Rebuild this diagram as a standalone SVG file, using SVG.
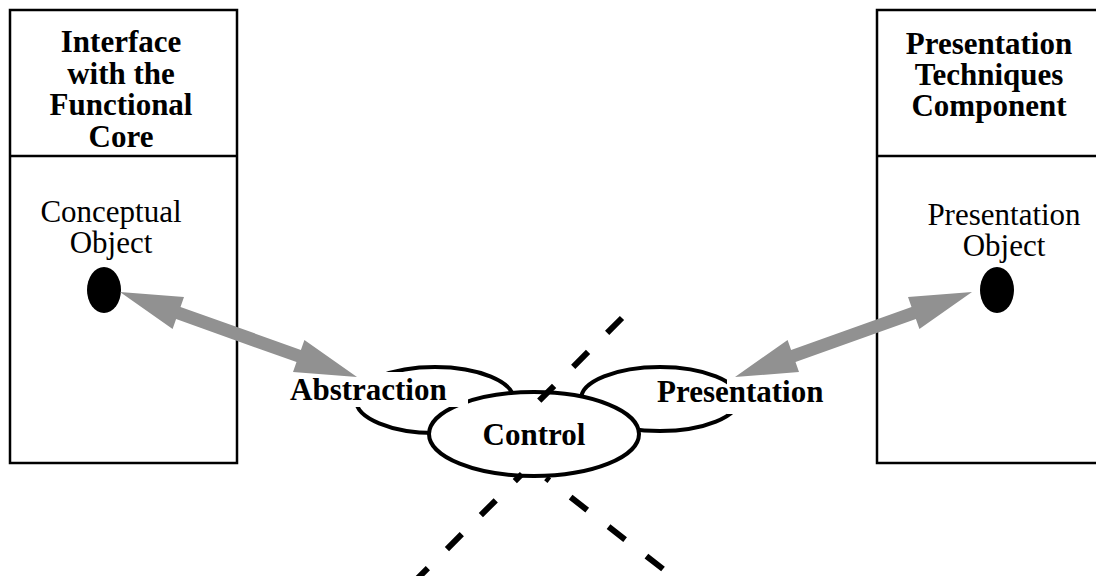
<svg xmlns="http://www.w3.org/2000/svg" width="1096" height="576" viewBox="0 0 1096 576">
<style>
.box{fill:#fff;stroke:#000;stroke-width:2.5}
.div{stroke:#000;stroke-width:2.5}
.hdr{font-family:"Liberation Serif","Times New Roman",serif;font-weight:bold;font-size:31px;text-anchor:middle;fill:#000}
.lbl{font-family:"Liberation Serif","Times New Roman",serif;font-size:31px;text-anchor:middle;fill:#000}
.blbl{font-family:"Liberation Serif","Times New Roman",serif;font-weight:bold;font-size:31px;fill:#000}
.dot{fill:#000}
.ring{fill:#fff;stroke:#000;stroke-width:4}
.arrow{fill:#919191}
.dash{fill:none;stroke:#000;stroke-width:6;stroke-dasharray:21 27}
</style>
<rect width="1096" height="576" fill="#fff"/>
<g id="left-component">
  <rect class="box" x="10" y="10" width="227" height="453"/>
  <line class="div" x1="10" y1="156" x2="237" y2="156"/>
  <text class="hdr" x="121" y="52">Interface</text>
  <text class="hdr" x="121" y="83.5">with the</text>
  <text class="hdr" x="121" y="115">Functional</text>
  <text class="hdr" x="121" y="146.5">Core</text>
</g>
<g id="conceptual-object">
  <text class="lbl" x="111" y="222">Conceptual</text>
  <text class="lbl" x="111" y="253">Object</text>
  <ellipse class="dot" cx="104" cy="290" rx="17" ry="23"/>
</g>
<g id="right-component">
  <rect class="box" x="877" y="10" width="230" height="453"/>
  <line class="div" x1="877" y1="156" x2="1100" y2="156"/>
  <text class="hdr" x="989" y="54">Presentation</text>
  <text class="hdr" x="989" y="85">Techniques</text>
  <text class="hdr" x="989" y="116">Component</text>
</g>
<g id="presentation-object">
  <text class="lbl" x="1004" y="225">Presentation</text>
  <text class="lbl" x="1004" y="256">Object</text>
  <ellipse class="dot" cx="997" cy="290" rx="17" ry="23"/>
</g>
<g id="pac-agent">
  <ellipse class="ring" cx="435" cy="400" rx="79" ry="33"/>
  <ellipse class="ring" cx="660" cy="399" rx="79" ry="32"/>
  <ellipse class="ring" cx="534" cy="434" rx="105" ry="42" stroke-width="4.5"/>
  <g id="abstraction">
    <rect x="278" y="372" width="190" height="35" fill="#fff"/>
    <text class="blbl" x="290" y="400">Abstraction</text>
  </g>
  <g id="presentation">
    <rect x="727" y="375" width="110" height="39" fill="#fff"/>
    <text class="blbl" x="657" y="402">Presentation</text>
  </g>
  <g id="control">
    <text class="hdr" x="534" y="445">Control</text>
  </g>
</g>
<g id="connectors">
  <polygon class="arrow" points="120,292 184,297 180.5,306.9 300.9,349.9 304.4,340 357,377 293,372 296.5,362.1 176.1,319.1 172.6,329"/>
  <polygon class="arrow" points="972,292 908,297 911.5,306.9 791.1,349.9 787.6,340 735,377 799,372 795.5,362.1 915.9,319.1 919.4,329"/>
  <path class="dash" d="M622,318 L539,401"/>
  <path class="dash" d="M413,583 L522,474"/>
  <path class="dash" d="M663,569 L546,478"/>
</g>
</svg>
